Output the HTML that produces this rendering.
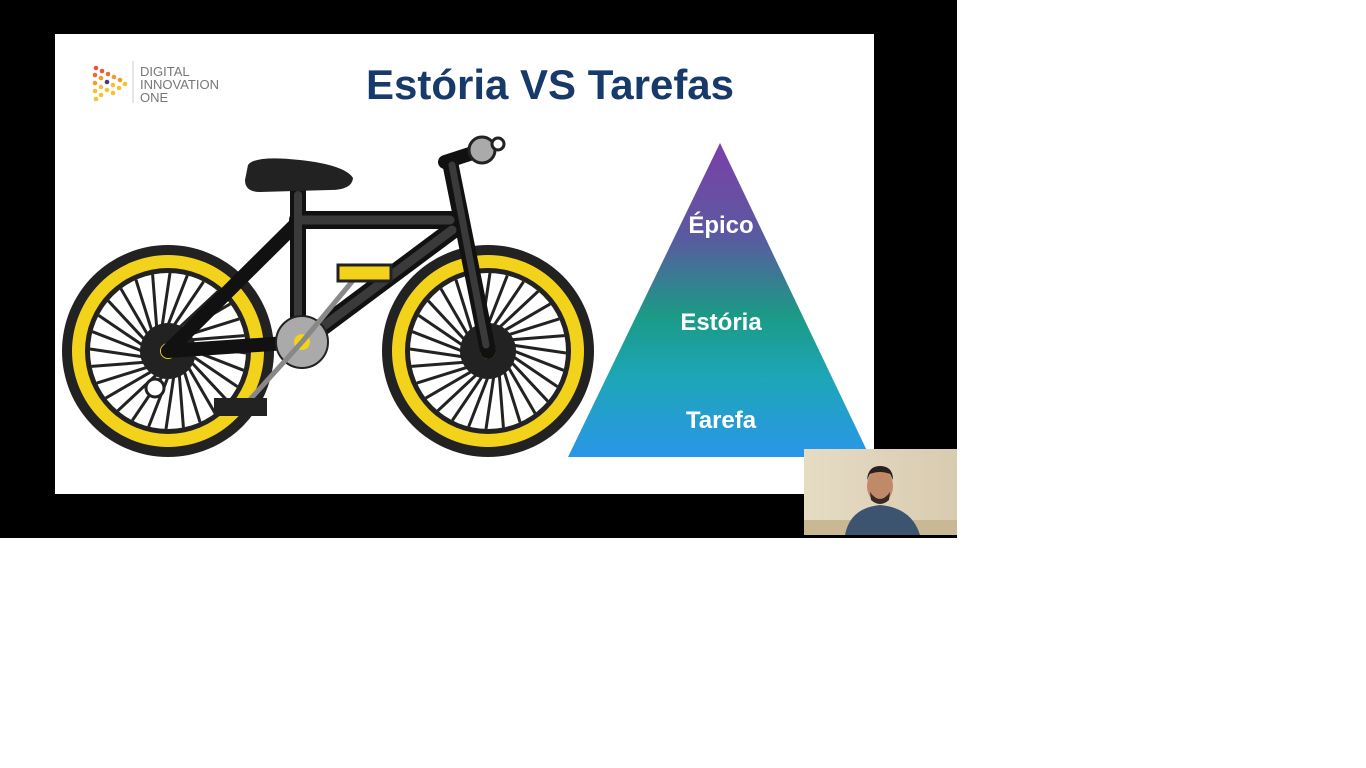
<!DOCTYPE html>
<html><head><meta charset="utf-8"><style>
html,body{margin:0;padding:0;width:1366px;height:768px;background:#fff;overflow:hidden}
svg{display:block}
</style></head><body>
<svg width="1366" height="768" viewBox="0 0 1366 768">
<defs>
<linearGradient id="pg" x1="0" y1="0" x2="0" y2="1">
<stop offset="0" stop-color="#7b3fa8"/><stop offset="0.3" stop-color="#5a5aa0"/><stop offset="0.55" stop-color="#1b9a86"/><stop offset="0.75" stop-color="#1ea6b8"/><stop offset="1" stop-color="#2a96e8"/>
</linearGradient>
<linearGradient id="wall" x1="0" y1="0" x2="1" y2="0"><stop offset="0" stop-color="#e6dcc4"/><stop offset="1" stop-color="#d8cbb0"/></linearGradient>
</defs>
<rect x="0" y="0" width="957" height="538" fill="#000"/>
<rect x="55" y="34" width="819" height="460" fill="#fff"/>
<g>
<g fill="#f29a2e">
<circle cx="96" cy="68" r="2.3" fill="#e8553a"/><circle cx="102" cy="71" r="2.3" fill="#e8553a"/><circle cx="108" cy="74" r="2.3" fill="#ea6a34"/><circle cx="114" cy="77" r="2.3"/><circle cx="120" cy="80" r="2.3"/><circle cx="125" cy="84" r="2.3" fill="#f6c02f"/>
<circle cx="95" cy="75" r="2.3" fill="#ea6a34"/><circle cx="101" cy="78" r="2.3"/><circle cx="107" cy="82" r="2.3" fill="#4a3a7a"/><circle cx="113" cy="85" r="2.3" fill="#f6c02f"/><circle cx="119" cy="88" r="2.3" fill="#f6c02f"/>
<circle cx="95" cy="83" r="2.3"/><circle cx="101" cy="87" r="2.3" fill="#f6c02f"/><circle cx="107" cy="90" r="2.3" fill="#f6c02f"/><circle cx="113" cy="93" r="2.3" fill="#f6c02f"/>
<circle cx="95" cy="91" r="2.3" fill="#f6c02f"/><circle cx="101" cy="95" r="2.3" fill="#f6c02f"/><circle cx="96" cy="99" r="2.3" fill="#f6c02f"/>
</g>
<line x1="133" y1="61" x2="133" y2="103" stroke="#ccc" stroke-width="1"/>
<text x="140" y="76" font-family="Liberation Sans, sans-serif" font-size="13" fill="#777">DIGITAL</text>
<text x="140" y="89" font-family="Liberation Sans, sans-serif" font-size="13" fill="#777">INNOVATION</text>
<text x="140" y="102" font-family="Liberation Sans, sans-serif" font-size="13" fill="#777">ONE</text>
</g>
<text x="550" y="99" text-anchor="middle" font-family="Liberation Sans, sans-serif" font-weight="bold" font-size="42" fill="#173a6a">Estória VS Tarefas</text>
<g>
<g>
<circle cx="168" cy="351" r="106" fill="#222"/><circle cx="168" cy="351" r="96" fill="#f2d21a"/><circle cx="168" cy="351" r="83" fill="#222"/><circle cx="168" cy="351" r="78" fill="#fff"/>
<g id="spk" stroke="#222" stroke-width="3"></g><circle cx="168" cy="351" r="28" fill="#222"/><circle cx="168" cy="351" r="8" fill="#f2d21a"/>
</g>
<g>
<circle cx="488" cy="351" r="106" fill="#222"/><circle cx="488" cy="351" r="96" fill="#f2d21a"/><circle cx="488" cy="351" r="83" fill="#222"/><circle cx="488" cy="351" r="78" fill="#fff"/>
<g id="spk2" stroke="#222" stroke-width="3"></g><circle cx="488" cy="351" r="28" fill="#222"/><circle cx="488" cy="351" r="8" fill="#f2d21a"/>
</g>
<g stroke="#111" stroke-linecap="round" fill="none">
<line x1="298" y1="190" x2="298" y2="345" stroke-width="16"/>
<line x1="298" y1="220" x2="452" y2="220" stroke-width="18"/>
<line x1="455" y1="228" x2="302" y2="342" stroke-width="18"/>
<line x1="168" y1="351" x2="302" y2="342" stroke-width="14"/>
<line x1="168" y1="351" x2="298" y2="222" stroke-width="14"/>
<line x1="450" y1="162" x2="488" y2="351" stroke-width="16"/>
<line x1="445" y1="162" x2="482" y2="150" stroke-width="14"/>
</g>
<g stroke="#3a3a3a" stroke-linecap="round" fill="none">
<line x1="298" y1="195" x2="298" y2="340" stroke-width="8"/>
<line x1="300" y1="220" x2="450" y2="220" stroke-width="9"/>
<line x1="452" y1="230" x2="305" y2="340" stroke-width="9"/>
<line x1="452" y1="165" x2="486" y2="345" stroke-width="7"/>
</g>
<path d="M248,165 Q255,155 300,160 Q345,165 353,178 Q352,190 330,190 L260,192 Q245,192 245,180 Z" fill="#222"/>
<circle cx="482" cy="150" r="13" fill="#aaa" stroke="#222" stroke-width="3"/>
<circle cx="498" cy="144" r="6" fill="#fff" stroke="#222" stroke-width="3"/>
<circle cx="302" cy="342" r="26" fill="#aaa" stroke="#222" stroke-width="2"/><circle cx="302" cy="342" r="8" fill="#f2d21a"/>
<line x1="302" y1="342" x2="360" y2="272" stroke="#888" stroke-width="5"/>
<line x1="302" y1="342" x2="245" y2="405" stroke="#888" stroke-width="5"/>
<rect x="338" y="265" width="53" height="16" fill="#f2d21a" stroke="#222" stroke-width="3"/>
<rect x="214" y="398" width="53" height="18" fill="#222"/>
<circle cx="155" cy="388" r="9" fill="#fff" stroke="#222" stroke-width="3"/>
</g>
<g>
<polygon points="720,143 870,457 568,457" fill="url(#pg)"/>
<text x="721" y="233" text-anchor="middle" font-family="Liberation Sans, sans-serif" font-weight="bold" font-size="24" fill="#fff">Épico</text>
<text x="721" y="330" text-anchor="middle" font-family="Liberation Sans, sans-serif" font-weight="bold" font-size="24" fill="#fff">Estória</text>
<text x="721" y="428" text-anchor="middle" font-family="Liberation Sans, sans-serif" font-weight="bold" font-size="24" fill="#fff">Tarefa</text>
</g>
<g>
<rect x="804" y="449" width="153" height="86" fill="url(#wall)"/>
<rect x="804" y="520" width="153" height="15" fill="#c9b894"/>
<path d="M845,535 Q850,508 880,505 Q912,508 920,535 Z" fill="#3d5470"/>
<ellipse cx="880" cy="486" rx="13" ry="17" fill="#c08a68"/>
<path d="M867,480 Q868,466 880,466 Q893,466 893,480 L890,474 Q880,470 870,474 Z" fill="#2a2020"/>
<path d="M870,492 Q880,506 890,492 L889,500 Q880,508 871,500 Z" fill="#3a2a24"/>
</g>
</svg>
<script>
function spokes(id,cx,cy){var g=document.getElementById(id);for(var i=0;i<28;i++){var a=i*Math.PI*2/28;var l=document.createElementNS('http://www.w3.org/2000/svg','line');l.setAttribute('x1',cx+Math.cos(a)*26);l.setAttribute('y1',cy+Math.sin(a)*26);l.setAttribute('x2',cx+Math.cos(a+0.25)*78);l.setAttribute('y2',cy+Math.sin(a+0.25)*78);


g.appendChild(l);}}
spokes('spk',168,351);spokes('spk2',488,351);
</script>
</body></html>
